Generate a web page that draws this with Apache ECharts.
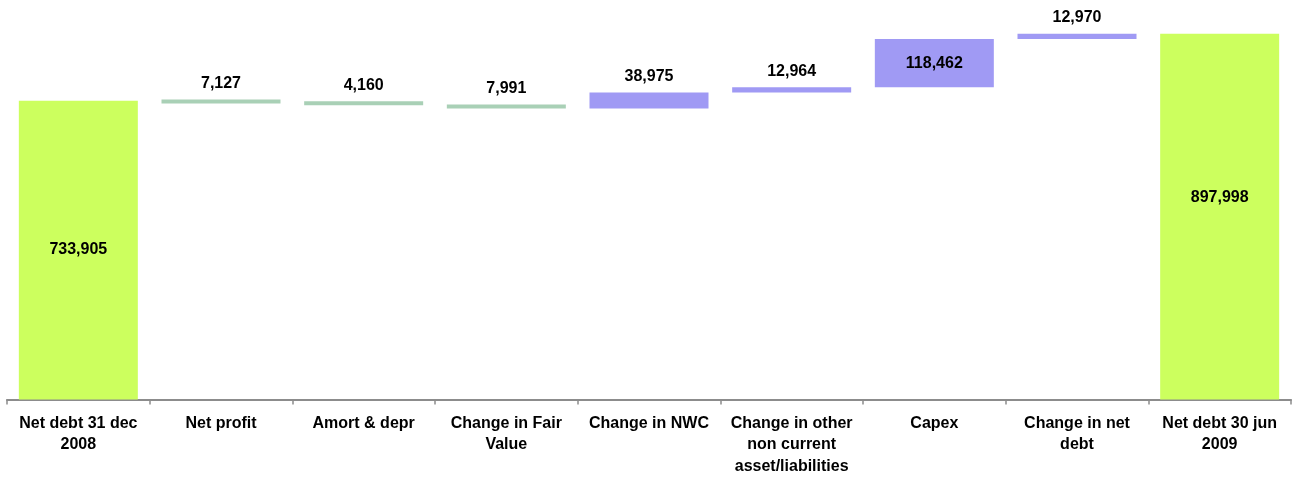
<!DOCTYPE html>
<html>
<head>
<meta charset="utf-8">
<title>Net debt bridge</title>
<script src="https://cdn.jsdelivr.net/npm/echarts@6/dist/echarts.min.js"></script>
<style>
  html, body { margin: 0; padding: 0; background: #ffffff; }
  #chart { width: 1295px; height: 477px; }
</style>
</head>
<body>
<div id="chart"></div>
<script>
// Net debt bridge: opening balance, movements, closing balance
const categories = [
  'Net debt 31 dec\n2008',
  'Net profit',
  'Amort & depr',
  'Change in Fair\nValue',
  'Change in NWC',
  'Change in other\nnon current\nasset/liabilities',
  'Capex',
  'Change in net\ndebt',
  'Net debt 30 jun\n2009'
];
const openingDebt = 733905;
const movements = [-7127, -4160, -7991, 38975, 12964, 118462, 12970];
const closingDebt = 897998;

const COLOR_TOTAL = '#ccff5e';
const COLOR_DOWN = '#a9d0b6';
const COLOR_UP = '#a09af4';

// Build the invisible base and the visible segment for each column
const baseData = [0];
const barData = [{ value: openingDebt, itemStyle: { color: COLOR_TOTAL }, label: { position: 'inside' } }];
let running = openingDebt;
movements.forEach(function (d) {
  const next = running + d;
  baseData.push(Math.min(running, next));
  barData.push({
    value: Math.abs(d),
    itemStyle: { color: d < 0 ? COLOR_DOWN : COLOR_UP },
    label: { position: Math.abs(d) > 50000 ? 'inside' : 'top' }
  });
  running = next;
});
baseData.push(0);
barData.push({ value: closingDebt, itemStyle: { color: COLOR_TOTAL }, label: { position: 'inside', offset: [0, -19] } });

const fmt = function (v) { return Number(v).toLocaleString('en-US'); };
const FONT = '"Liberation Sans", Arial, sans-serif';

const chart = echarts.init(document.getElementById('chart'), null, { renderer: 'canvas' });
chart.setOption({
  animation: false,
  backgroundColor: '#ffffff',
  grid: { left: 7, right: 4, top: 0, bottom: 76 },
  xAxis: {
    type: 'category',
    data: categories,
    boundaryGap: true,
    axisLine: { lineStyle: { color: '#8c8c8c', width: 2 } },
    axisTick: { show: true, interval: 0, length: 5, lineStyle: { color: '#8c8c8c', width: 1.5 } },
    axisLabel: {
      interval: 0,
      margin: 13,
      color: '#000000',
      fontFamily: FONT,
      fontWeight: 'bold',
      fontSize: 16,
      lineHeight: 21.5,
      align: 'center'
    }
  },
  yAxis: {
    type: 'value',
    min: 0,
    max: 981000,
    show: false,
    splitLine: { show: false }
  },
  series: [
    {
      type: 'bar',
      stack: 'bridge',
      data: baseData,
      itemStyle: { color: 'transparent' },
      emphasis: { disabled: true },
      silent: true,
      barWidth: 119
    },
    {
      type: 'bar',
      stack: 'bridge',
      data: barData,
      barWidth: 119,
      barMinHeight: 4,
      label: {
        show: true,
        distance: 8,
        color: '#000000',
        fontFamily: FONT,
        fontWeight: 'bold',
        fontSize: 16,
        formatter: function (p) { return fmt(p.value); }
      }
    }
  ]
});
</script>
</body>
</html>
